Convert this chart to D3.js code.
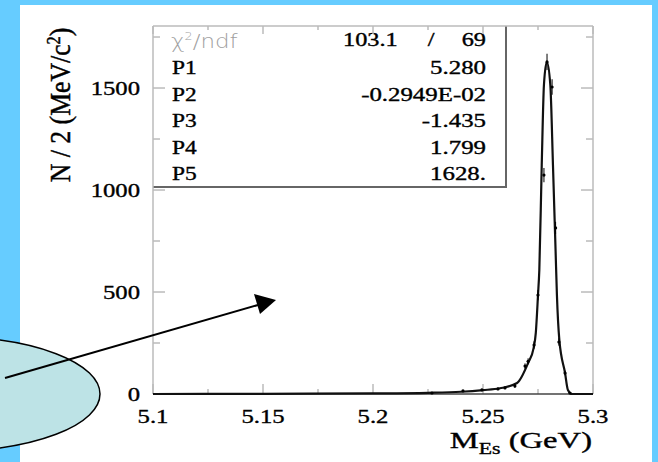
<!DOCTYPE html>
<html lang="en">
<head>
<meta charset="utf-8">
<script src="https://d3js.org/d3.v7.min.js"></script>
<style>
  body { margin: 0; background: #66ccff; }
  text { font-family: "Liberation Serif", "DejaVu Serif", serif; fill: #000; }
  .ink { stroke: #000; stroke-width: 0.35px; }
</style>
</head>
<body>
<script>
// axis ticks
var xMajor = [5.1, 5.15, 5.2, 5.25, 5.3];
var xLabels = ["5.1", "5.15", "5.2", "5.25", "5.3"];
var xMinor = [5.125, 5.175, 5.225, 5.275];
var yMajor = [0, 500, 1000, 1500];
var yLabels = ["0", "500", "1000", "1500"];
var yMinor = [250, 750, 1250, 1750];

// fit curve
var fitMass  = [5.10, 5.15, 5.20, 5.225, 5.24, 5.25, 5.2577, 5.2655, 5.2705, 5.2730, 5.2740, 5.2750, 5.2756, 5.2767, 5.2777, 5.2790, 5.2806, 5.2818, 5.2830, 5.2836, 5.2847, 5.2873, 5.2886, 5.2905, 5.30];
var fitCount = [0, 1, 3, 6, 11, 19, 28, 54, 152, 225, 300, 485, 608, 1123, 1515, 1628, 1515, 1123, 700, 485, 265, 103, 20, 0, 0];

// histogram points
var dataMass  = [5.2268, 5.2409, 5.2495, 5.2568, 5.2600, 5.2645, 5.2691, 5.2705, 5.2732, 5.2750, 5.2777, 5.2791, 5.2814, 5.2830, 5.2845, 5.2873, 5.2895];
var dataCount = [5, 15, 20, 25, 30, 39, 137, 160, 240, 485, 1073, 1628, 1505, 814, 255, 103, 5];
var dataErr   = [3, 5, 5, 6, 6, 8, 13, 15, 18, 25, 35, 40, 38, 30, 18, 11, 3];

// fit box
var statNames  = ["P1", "P2", "P3", "P4", "P5"];
var statValues = ["5.280", "-0.2949E-02", "-1.435", "1.799", "1628."];
var chi2 = "103.1", ndf = "69";

var width = 658, height = 462;
var svg = d3.select("body").append("svg")
    .attr("width", width).attr("height", height);

svg.append("rect").attr("width", width).attr("height", height).attr("fill", "#66ccff");
svg.append("rect").attr("x", 20).attr("y", 5).attr("width", 632).attr("height", 457).attr("fill", "#fff");

var pL = 153, pR = 593, pT = 26, pB = 394;
var x = d3.scaleLinear().domain([5.1, 5.3]).range([pL, pR]);
var y = d3.scaleLinear().domain([0, 1804]).range([pB, pT]);

// stretched text helper (the original is wide)
function wideText(parent, px, py, str, size, anchor, k) {
  return parent.append("g")
      .attr("transform", "translate(" + px + "," + py + ") scale(" + k + ",1)")
    .append("text")
      .attr("class", "ink")
      .attr("text-anchor", anchor)
      .style("font-size", size + "px")
      .text(str);
}

// fit box
var box = svg.append("g");
box.append("rect").attr("x", pL).attr("y", pT)
    .attr("width", 353).attr("height", 161).attr("fill", "#fff");
box.append("path")
    .attr("d", "M" + (pL + 353) + "," + pT + "V" + (pT + 161) + "H" + pL)
    .attr("fill", "none").attr("stroke", "#666").attr("stroke-width", 2);

box.append("g").attr("transform", "translate(171,48) scale(1.15,1)")
  .append("text")
    .style("font-family", "'DejaVu Sans', sans-serif")
    .style("font-size", "20px").style("font-weight", "200")
    .style("fill", "#a0a0a0")
    .html("&#967;<tspan dy='-8' font-size='11px'>2</tspan><tspan dy='8'>/ndf</tspan>");
wideText(box, 343, 46, chi2, 18, "start", 1.35);
wideText(box, 431, 46, "/", 18, "middle", 1.35);
wideText(box, 486, 46, ndf, 18, "end", 1.35);

statNames.forEach(function(n, i) {
  var by = 74 + i * 26.6;
  wideText(box, 172, by, n, 18, "start", 1.3);
  wideText(box, 486, by, statValues[i], 18, "end", 1.38);
});

// frame
var frame = svg.append("g").attr("stroke", "#bbb").attr("fill", "none").attr("stroke-width", 1.5);
frame.append("line").attr("x1", pL).attr("x2", pL).attr("y1", pT).attr("y2", pB);
frame.append("line").attr("x1", pR).attr("x2", pR).attr("y1", pT).attr("y2", pB);
frame.append("line").attr("x1", pL).attr("x2", pR).attr("y1", pT).attr("y2", pT);

// ticks
xMajor.forEach(function(v) {
  frame.append("line").attr("x1", x(v)).attr("x2", x(v)).attr("y1", pB).attr("y2", pB - 10);
  frame.append("line").attr("x1", x(v)).attr("x2", x(v)).attr("y1", pT).attr("y2", pT + 8);
});
xMinor.forEach(function(v) {
  frame.append("line").attr("x1", x(v)).attr("x2", x(v)).attr("y1", pB).attr("y2", pB - 5);
  frame.append("line").attr("x1", x(v)).attr("x2", x(v)).attr("y1", pT).attr("y2", pT + 4);
});
yMajor.forEach(function(v) {
  frame.append("line").attr("x1", pL).attr("x2", pL + 12).attr("y1", y(v)).attr("y2", y(v));
  frame.append("line").attr("x1", pR).attr("x2", pR - 12).attr("y1", y(v)).attr("y2", y(v));
});
yMinor.forEach(function(v) {
  frame.append("line").attr("x1", pL).attr("x2", pL + 7).attr("y1", y(v)).attr("y2", y(v));
  frame.append("line").attr("x1", pR).attr("x2", pR - 7).attr("y1", y(v)).attr("y2", y(v));
});

svg.append("line").attr("x1", pL).attr("x2", pR).attr("y1", pB).attr("y2", pB)
    .attr("stroke", "#444").attr("stroke-width", 1.5);

// tick labels
xMajor.forEach(function(v, i) {
  wideText(svg, x(v), 423, xLabels[i], 19, "middle", 1.3);
});
yMajor.forEach(function(v, i) {
  wideText(svg, 140, y(v) + 7, yLabels[i], 19, "end", 1.3);
});

// axis titles
svg.append("g").attr("transform", "translate(70,105) rotate(-90) scale(1.17,1.3)")
  .append("text").attr("class", "ink").attr("text-anchor", "middle").style("font-size", "22px")
    .html("N / 2 (MeV/c<tspan dy='-8' font-size='14px'>2</tspan><tspan dy='8'>)</tspan>");

svg.append("g").attr("transform", "translate(592,448) scale(1.36,1)")
  .append("text").attr("class", "ink").attr("text-anchor", "end").style("font-size", "24px")
    .html("M<tspan dy='6' font-size='16px'>Es</tspan><tspan dy='-6'> (GeV)</tspan>");

// fit curve
var fitPts = fitMass.map(function(m, i) { return [m, fitCount[i]]; });
var line = d3.line()
    .x(function(d) { return x(d[0]); })
    .y(function(d) { return y(d[1]); })
    .curve(d3.curveMonotoneX);
svg.append("path").datum(fitPts).attr("d", line)
    .attr("fill", "none").attr("stroke", "#111").attr("stroke-width", 2.2);

// data points
var pts = svg.append("g");
dataMass.forEach(function(m, i) {
  pts.append("line").attr("x1", x(m)).attr("x2", x(m))
      .attr("y1", y(dataCount[i] + dataErr[i])).attr("y2", y(Math.max(0, dataCount[i] - dataErr[i])))
      .attr("stroke", "#000").attr("stroke-width", 1);
  pts.append("circle").attr("cx", x(m)).attr("cy", y(dataCount[i])).attr("r", 1.6).attr("fill", "#000");
});

// annotation ellipse and arrow
svg.append("ellipse").attr("cx", -50).attr("cy", 394).attr("rx", 150).attr("ry", 57)
    .attr("fill", "#bde3e6").attr("stroke", "#000").attr("stroke-width", 1.5);
svg.append("line").attr("x1", 5).attr("y1", 378).attr("x2", 258).attr("y2", 305)
    .attr("stroke", "#000").attr("stroke-width", 2);
svg.append("path").attr("d", "M276,300L254,294L260,314Z").attr("fill", "#000");
</script>
</body>
</html>
